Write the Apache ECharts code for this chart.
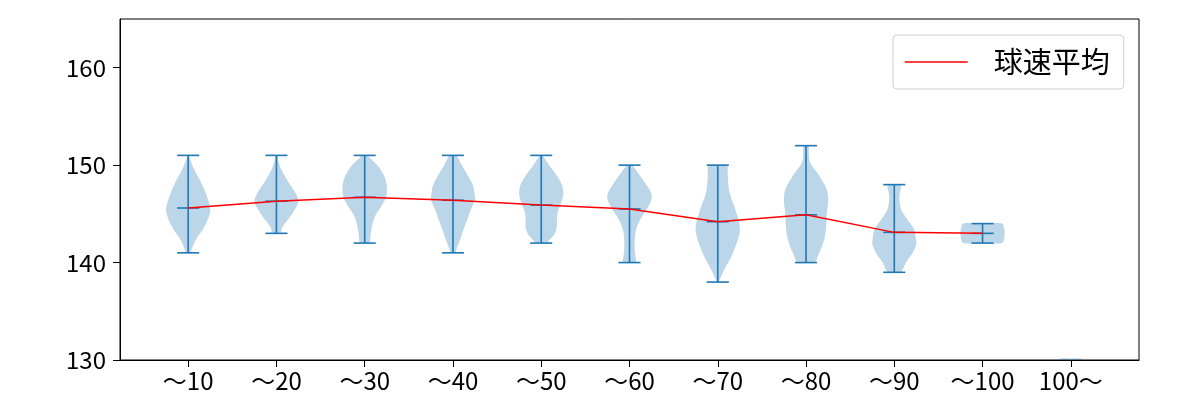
<!DOCTYPE html>
<html>
<head>
<meta charset="utf-8">
<script src="https://cdn.jsdelivr.net/npm/echarts@6/dist/echarts.min.js"></script>
<style>html,body{margin:0;padding:0;background:#fff;}#c{width:1200px;height:400px;}</style>
</head>
<body>
<div id="c"></div>
<script>
// ---- data ----
const categories = ['～10','～20','～30','～40','～50','～60','～70','～80','～90','～100','100～'];
const yTicks = [130, 140, 150, 160];
const means = [145.6, 146.3, 146.7, 146.4, 145.9, 145.5, 144.2, 144.9, 143.1, 143.0];
const mins  = [141, 143, 142, 141, 142, 140, 138, 140, 139, 142];
const maxs  = [151, 151, 151, 151, 151, 150, 150, 152, 148, 144];
// violin outlines: [speed, relative density width]
const violin10  = [[141,0.1],[141.5,0.18],[142.4,0.36],[143.7,0.74],[145.3,1],[146.8,0.85],[148.2,0.59],[149.6,0.26],[151,0.03]];
const violin20  = [[143,0.18],[143.6,0.26],[144.4,0.52],[145.3,0.79],[146.3,1],[147.2,0.85],[148.2,0.56],[149.6,0.21],[150.5,0.08],[151,0.04]];
const violin30  = [[142,0.22],[142.7,0.26],[143.7,0.33],[144.8,0.48],[145.8,0.76],[146.8,0.98],[147.9,1],[148.9,0.88],[149.9,0.6],[150.6,0.3],[151,0.12]];
const violin40  = [[141,0.1],[141.3,0.15],[142.4,0.33],[143.4,0.48],[144.4,0.65],[145.5,0.82],[146.5,1],[147.0,0.98],[147.9,0.91],[148.9,0.68],[149.9,0.42],[151,0.16]];
const violin50  = [[142,0.25],[142.2,0.32],[142.9,0.6],[143.7,0.71],[144.6,0.71],[145.3,0.76],[146.2,0.91],[147.0,1],[147.9,0.95],[148.9,0.71],[149.9,0.38],[151,0.06]];
const violin60  = [[140,0.3],[140.2,0.3],[141.3,0.24],[142.4,0.24],[143.4,0.3],[144.4,0.48],[145.5,0.79],[146.5,1],[147.2,0.97],[148.0,0.76],[149.1,0.42],[150,0.12]];
const violin70  = [[138,0.06],[138.2,0.08],[139.3,0.3],[140.6,0.61],[142.0,0.86],[143.2,1],[144.1,0.97],[145.5,0.79],[147.2,0.53],[148.9,0.45],[150,0.42]];
const violin80  = [[140,0.38],[141.0,0.6],[142.4,0.83],[143.7,0.91],[145.1,0.94],[146.3,1],[147.5,0.94],[148.9,0.6],[150.3,0.18],[151.2,0.13],[152,0.12]];
const violin90  = [[139,0.3],[140.0,0.53],[141.0,0.83],[141.9,1],[142.4,0.98],[143.4,0.9],[144.4,0.6],[145.5,0.3],[146.8,0.23],[148,0.3]];
const violin100 = [[142,0.88],[142.5,0.98],[143,1],[143.5,0.98],[144,0.88]];
const violin100over = [[130,0.5],[130.15,0.5]];
const violins = [violin10, violin20, violin30, violin40, violin50, violin60, violin70, violin80, violin90, violin100, violin100over];

// ---- chart ----
const BLUE = '#1f77b4';
const HALF = 0.25;   // max half-width of a violin, x units
const CAP = 0.125;   // half-length of caps
const FONT = '"Noto Sans CJK JP", "Noto Sans", sans-serif';

const chart = echarts.init(document.getElementById('c'), null, {renderer: 'canvas'});

const option = {
  animation: false,
  backgroundColor: '#fff',
  grid: {left: 120, right: 61, top: 19, bottom: 40, show: true, borderColor: '#000', borderWidth: 1, backgroundColor: 'transparent'},
  legend: {
    data: ['球速平均'],
    left: 893, top: 35,
    orient: 'horizontal',
    padding: [10, 14, 10, 11],
    itemWidth: 63, itemHeight: 14,
    itemStyle: {color: 'rgba(0,0,0,0)', borderWidth: 0},
    lineStyle: {color: '#ff0000', width: 1.5},
    backgroundColor: 'rgba(255,255,255,0.8)',
    borderColor: '#d0d0d0', borderWidth: 1, borderRadius: 4,
    textStyle: {fontFamily: FONT, fontSize: 29, color: '#000', padding: [0, 0, 0, 21], lineHeight: 34}
  },
  xAxis: {
    type: 'value', min: 0.2275, max: 11.7725,
    splitLine: {show: false},
    axisLine: {show: true, onZero: false, lineStyle: {color: '#000', width: 1}},
    axisTick: {show: true, length: 7, lineStyle: {color: '#000', width: 1}, customValues: categories.map((c, i) => i + 1)},
    axisLabel: {
      customValues: categories.map((c, i) => i + 1),
      formatter: v => categories[Math.round(v) - 1] || '',
      fontFamily: FONT, fontSize: 24, color: '#000', margin: 9
    }
  },
  yAxis: {
    type: 'value', min: 130, max: 165,
    splitLine: {show: false},
    axisLine: {show: true, onZero: false, lineStyle: {color: '#000', width: 1}},
    axisTick: {show: true, length: 7, lineStyle: {color: '#000', width: 1}, customValues: yTicks},
    axisLabel: {customValues: yTicks, fontFamily: FONT, fontSize: 24, color: '#000', margin: 14}
  },
  series: [
    {
      type: 'custom',
      name: 'violin',
      silent: true,
      clip: true,
      data: violins.map((v, i) => [i + 1, v[0][0]]),
      renderItem: function (params, api) {
        const i = params.dataIndex;
        const prof = violins[i];
        const x0 = i + 1;
        const right = prof.map(p => api.coord([x0 + HALF * p[1], p[0]]));
        const left = prof.slice().reverse().map(p => api.coord([x0 - HALF * p[1], p[0]]));
        const top = api.coord([x0, prof[prof.length - 1][0]]);
        const bot = api.coord([x0, prof[0][0]]);
        const pts = [bot].concat(right, [top], left);
        return {
          type: 'polygon',
          shape: {points: pts, smooth: 0.3},
          style: {fill: 'rgba(31,119,180,0.3)', stroke: null}
        };
      },
      z: 1
    },
    {
      type: 'custom',
      name: 'caps',
      silent: true,
      data: mins.map((m, i) => [i + 1, m, maxs[i], means[i]]),
      renderItem: function (params, api) {
        const x = api.value(0), lo = api.value(1), hi = api.value(2), mu = api.value(3);
        const s = {stroke: BLUE, lineWidth: 1.6};
        const seg = (x1, y1, x2, y2) => {
          const a = api.coord([x1, y1]), b = api.coord([x2, y2]);
          return {type: 'line', shape: {x1: a[0], y1: a[1], x2: b[0], y2: b[1]}, style: s};
        };
        return {
          type: 'group',
          children: [
            seg(x, lo, x, hi),
            seg(x - CAP, lo, x + CAP, lo),
            seg(x - CAP, hi, x + CAP, hi),
            seg(x - CAP, mu, x + CAP, mu)
          ]
        };
      },
      z: 2
    },
    {
      type: 'line',
      name: '球速平均',
      data: means.map((m, i) => [i + 1, m]),
      symbol: 'none',
      showSymbol: false,
      lineStyle: {color: '#ff0000', width: 1.5},
      itemStyle: {color: '#ff0000'},
      z: 3
    }
  ]
};
chart.setOption(option);
</script>
</body>
</html>
